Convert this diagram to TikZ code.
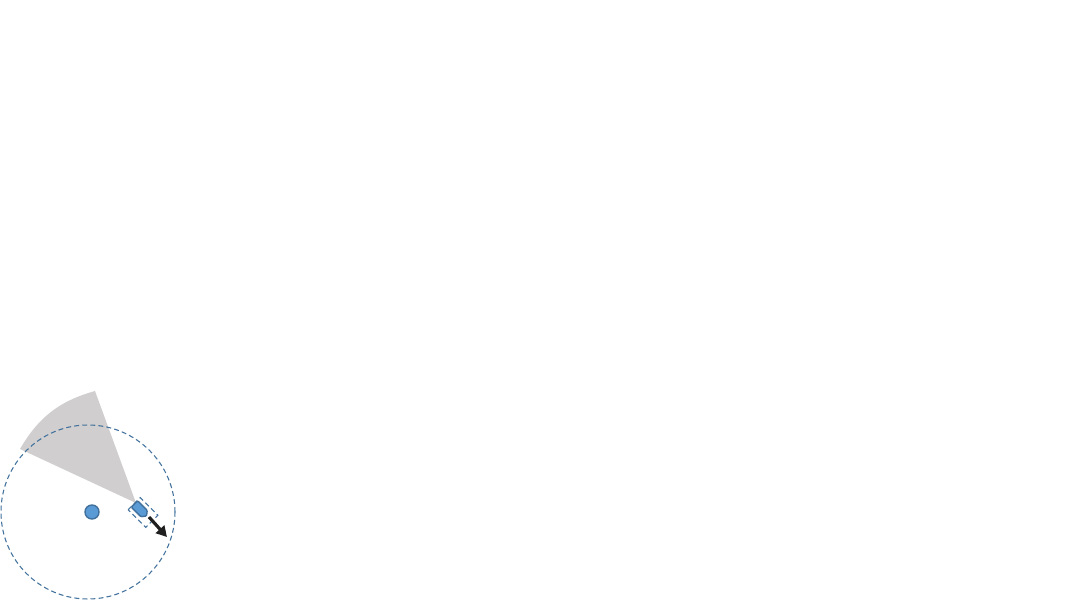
\documentclass[tikz,border=0pt]{standalone}
\usepackage{tikz}
\usetikzlibrary{calc,arrows.meta}

\definecolor{sektorgrau}{HTML}{D0CECE}
\definecolor{blaufuell}{HTML}{5B9BD5}
\definecolor{blaurand}{HTML}{41719C}

\begin{document}
\begin{tikzpicture}[x=0.01cm,y=0.01cm,
  strichlinie/.style={blaurand, line width=0.3pt, dash pattern=on 1.4pt off 0.9pt}]
\useasboundingbox (0,0) rectangle (1067,600);

%SICHTBEREICH (SEKTOR)
\coordinate (spitze) at (136,97);
\coordinate (sektoroben) at (95,209);
\coordinate (sektorlinks) at (20,151);
\fill [sektorgrau] (spitze) -- (sektoroben) to[bend right=22] (sektorlinks) -- cycle;

%KREIS UM DEN MITTELPUNKT
\coordinate (mitte) at (88,88);
\draw [strichlinie] (mitte) circle (87);

%ZIELPUNKT
\coordinate (ziel) at (92,88);
\filldraw [fill=blaufuell, draw=blaurand, line width=0.4pt] (ziel) circle (7);

%ROBOTER MIT RAHMEN
\coordinate (roboter) at (140.5,90);
\begin{scope}[shift={(roboter)}, rotate=-45]
\draw [strichlinie] (-9,-8.5) rectangle (16,8.5);
\filldraw [fill=blaufuell, draw=blaurand, line width=0.4pt, rounded corners=0.3pt]
  (-8.5,-4.5) -- (5,-4.5) -- (8.5,0) -- (5,4.5) -- (-8.5,4.5) -- cycle;
\end{scope}

%BEWEGUNGSRICHTUNG
\coordinate (pfeilstart) at (149,83);
\coordinate (pfeilende) at (167,63);
\draw [-{Triangle[length=3pt,width=3.2pt]}, line width=0.9pt, black!88] (pfeilstart) -- (pfeilende);

\end{tikzpicture}
\end{document}
